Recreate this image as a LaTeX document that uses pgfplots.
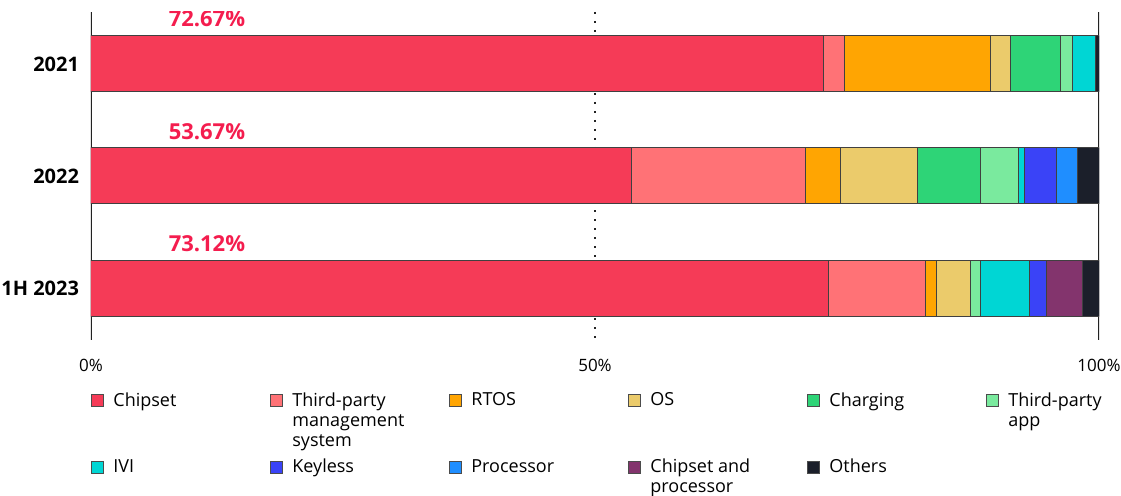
\documentclass[border=0pt]{standalone}
\usepackage{pgfplots}
\pgfplotsset{compat=1.18}
\usepackage{fontspec}
\setmainfont{Open Sans}

\definecolor{cChip}{HTML}{F53B57}
\definecolor{cTpm}{HTML}{FF7276}
\definecolor{cRtos}{HTML}{FFA502}
\definecolor{cOs}{HTML}{EBCB6B}
\definecolor{cChg}{HTML}{2ED477}
\definecolor{cTpa}{HTML}{7AEA9E}
\definecolor{cIvi}{HTML}{00D6D4}
\definecolor{cKey}{HTML}{3A43F7}
\definecolor{cProc}{HTML}{1F8EFF}
\definecolor{cCp}{HTML}{83346D}
\definecolor{cOth}{HTML}{1B1F2A}
\definecolor{labred}{HTML}{F41D4E}
\definecolor{axdark}{HTML}{222222}

\newcommand\legtxt[1]{\parbox[t]{62pt}{\raggedright #1}}

\begin{document}
\begin{tikzpicture}
\begin{axis}[
    name=ax,
    scale only axis,
    width=504pt, height=164pt,
    xbar stacked, bar width=28pt,
    xmin=0, xmax=100,
    ymin=-0.464, ymax=2.464, y dir=reverse,
    ytick={0,1,2}, yticklabels={2021,2022,1H 2023},
    yticklabel style={font=\fontsize{10}{12}\selectfont\bfseries, xshift=-2.5pt},
    xtick={0,100}, xticklabels={0\%,100\%},
    extra x ticks={50}, extra x tick labels={50\%},
    extra x tick style={grid=major, major grid style={axdark, line width=1pt, dash pattern=on 1pt off 3.5pt}},
    xticklabel style={font=\fontsize{8.5}{10}\selectfont, yshift=-6pt},
    major tick length=0pt,
    axis line style={draw=none},
    every axis plot/.append style={draw=black!75, line width=0.5pt},
    legend columns=6,
    legend cell align=left,
    legend image code/.code={\draw[#1, draw=black!70, line width=0.5pt] (0pt,-3pt) rectangle (6pt,3pt);
        \path (8.5pt,0pt);},
    legend style={draw=none, fill=none, at={(0,0)}, anchor=north west,
        yshift=-22pt, xshift=-3pt, row sep=21pt,
        font=\fontsize{9}{10}\selectfont,
        /tikz/every even column/.append style={column sep=14.5pt}},
]
\addplot[fill=cChip] coordinates {(72.67,0) (53.67,1) (73.12,2)};
\addplot[fill=cTpm]  coordinates {(2.05,0) (17.26,1) (9.69,2)};
\addplot[fill=cRtos] coordinates {(14.52,0) (3.47,1) (1.06,2)};
\addplot[fill=cOs]   coordinates {(2.01,0) (7.64,1) (3.34,2)};
\addplot[fill=cChg]  coordinates {(4.93,0) (6.18,1) (0,2)};
\addplot[fill=cTpa]  coordinates {(1.19,0) (3.84,1) (1.06,2)};
\addplot[fill=cIvi]  coordinates {(2.28,0) (0.53,1) (4.83,2)};
\addplot[fill=cKey]  coordinates {(0,0) (3.24,1) (1.65,2)};
\addplot[fill=cProc] coordinates {(0,0) (2.05,1) (0,2)};
\addplot[fill=cCp]   coordinates {(0,0) (0,1) (3.65,2)};
\addplot[fill=cOth]  coordinates {(0.35,0) (2.12,1) (1.60,2)};
\legend{\legtxt{Chipset}, \legtxt{Third-party\\management\\system}, \legtxt{RTOS}, \legtxt{OS}, \legtxt{Charging}, \legtxt{Third-party\\app},
        \legtxt{IVI}, \legtxt{Keyless}, \legtxt{Processor}, \legtxt{Chipset and\\processor}, \legtxt{Others}}

\draw[axdark, line width=1pt] (rel axis cs:0,0) -- (rel axis cs:0,1);
\draw[axdark, line width=1pt] (rel axis cs:1,0) -- (rel axis cs:1,1);

\node[labred, font=\fontsize{11}{13}\selectfont\bfseries] at (axis cs:11.5,-0.40) {72.67\%};
\node[labred, font=\fontsize{11}{13}\selectfont\bfseries] at (axis cs:11.5,0.60) {53.67\%};
\node[labred, font=\fontsize{11}{13}\selectfont\bfseries] at (axis cs:11.5,1.60) {73.12\%};
\end{axis}
\pgfresetboundingbox
\path ([shift={(-45.5pt,-78pt)}]ax.south west) rectangle ([shift={(515pt,170pt)}]ax.south west);
\end{tikzpicture}
\end{document}
